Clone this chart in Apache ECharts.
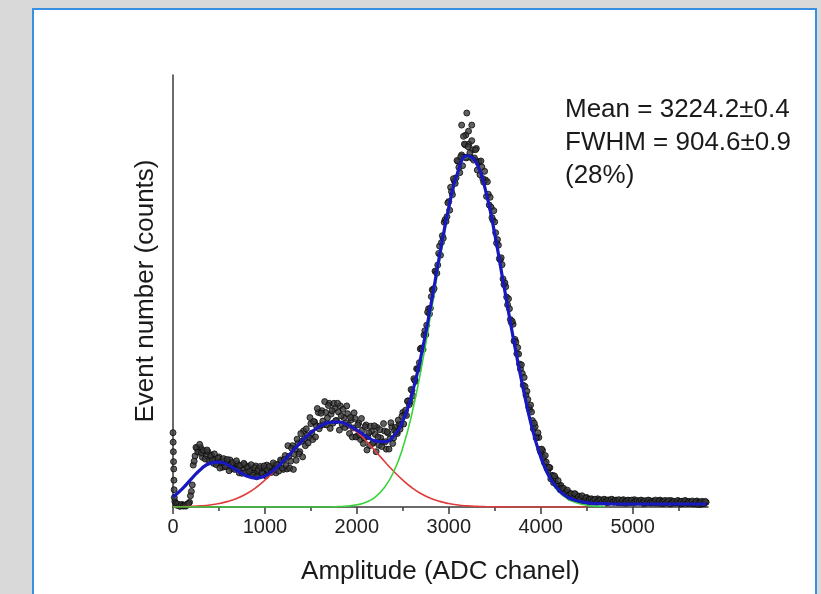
<!DOCTYPE html>
<html><head><meta charset="utf-8">
<script src="https://cdn.jsdelivr.net/npm/echarts@6/dist/echarts.min.js"></script>
<style>
html,body{margin:0;padding:0;background:#d9d9d9;width:821px;height:594px;overflow:hidden;}
#panel{position:absolute;left:32px;top:8px;width:785px;height:600px;box-sizing:border-box;border:2px solid #3a8fe0;border-bottom:none;background:#fff;}
#chart{position:absolute;left:0;top:0;width:821px;height:594px;}
</style></head><body><div id="panel"></div><div id="chart"></div>
<script>
// Measured spectrum (counts, arbitrary scale 0..1000 = axis height)
// even bins: channels 20,40,...,5800
const countsStart = 20, countsStep = 20;
const counts = [
13,4,4,2,6,3,2,7,11,36,
97,118,136,128,138,115,129,119,128,107,
120,101,111,102,116,103,92,107,94,102,
109,89,96,90,100,79,95,87,98,80,
94,76,87,79,95,83,73,90,78,89,
97,79,88,84,97,79,98,93,107,87,
119,88,117,106,142,122,108,148,128,152,
176,142,166,162,193,156,197,188,219,188,
223,191,219,206,240,215,194,228,200,220,
234,191,207,194,216,170,202,183,205,164,
194,156,178,160,190,163,142,175,149,168,
184,143,160,150,176,134,171,158,186,160,
184,170,192,191,219,214,212,246,244,270,
297,291,320,334,368,365,408,421,459,460,
503,506,545,560,604,612,622,665,672,707,
740,723,755,762,800,774,815,810,838,810,
840,809,827,808,830,798,769,787,752,757,
753,699,694,664,660,611,606,572,561,515,
510,468,459,427,423,388,355,354,319,309,
300,259,249,225,220,181,186,162,161,127,
131,103,104,86,91,73,56,67,48,50,
50,37,38,32,34,22,29,24,29,18,
25,15,20,16,22,17,12,18,13,16,
19,13,15,13,17,10,16,13,17,11,
16,10,14,11,17,13,9,15,11,14,
17,11,13,12,15,8,14,11,15,9,
14,9,13,10,16,12,8,14,10,13,
15,9,11,10,14,7,13,10,14,8,
13,8,11,8,14,10,6,12,8,11
];
// odd bins: channels 30,50,...,5790
const countsOddStart = 30, countsOddStep = 20;
const countsOdd = [
8,7,2,5,2,4,6,8,26,51,
106,138,127,145,125,131,111,132,108,118,
108,123,98,113,90,106,112,94,110,84,
97,103,87,107,88,96,78,101,80,91,
82,98,74,91,70,87,94,78,95,72,
86,94,80,102,87,98,83,109,90,110,
96,142,90,136,87,134,157,123,170,116,
158,181,148,207,171,198,162,228,181,217,
199,244,190,235,182,223,240,200,240,178,
211,226,184,234,189,207,162,218,162,190,
167,205,147,186,132,172,187,147,188,128,
162,179,140,193,151,174,134,195,147,177,
173,201,180,210,192,224,245,237,272,257,
293,320,319,366,365,398,399,451,447,487,
501,546,541,587,583,628,659,661,704,687,
730,760,749,802,786,811,790,840,808,834,
820,848,803,827,780,800,801,760,777,719,
724,717,670,686,635,619,575,577,528,519,
486,482,434,430,384,382,369,331,329,282,
279,268,231,236,200,194,160,172,133,134,
115,119,89,92,65,73,72,53,61,40,
44,43,32,39,28,31,20,31,19,24,
19,26,14,21,13,18,19,14,18,11,
15,17,12,18,13,16,11,18,12,15,
12,17,10,15,9,14,16,11,16,9,
13,15,11,16,11,14,9,16,10,13,
11,16,9,14,8,13,15,10,15,7,
11,13,9,15,10,13,8,15,9,12,
10,14,7,12,6,11,13,8,13
];
const spikeChannels = [0,2,4,6,8,10,12,14];
const spikeCounts = [172,150,128,105,88,62,40,22];
const outlierChannels = [3140,3185,3196,3250,3215,3160];
const outlierCounts = [884,861,912,884,870,858];

// Fit curves sampled every 100 channels
const fitChannels = [0,100,200,300,400,500,600,700,800,900,1000,1100,1200,1300,1400,1500,1600,1700,1800,1900,2000,2100,2200,2300,2400,2500,2600,2700,2800,2900,3000,3100,3200,3300,3400,3500,3600,3700,3800,3900,4000,4100,4200,4300,4400,4500,4600,4700,4800,4900,5000,5100,5200,5300,5400,5500,5600,5700,5800];
const fitTotal = [23,42,65,87,101,104,97,84,72,67,72,86,106,129,152,172,187,196,197,190,178,164,153,151,164,199,262,351,461,582,693,776,813,797,733,632,512,393,284,188,116,67,38,22,14,10,8,8,7,7,7,7,7,7,7,7,7,7,7];
const fitPeak1 = [0.4,0.7,1.4,2.6,4.6,7.9,13,20.4,30.8,44.6,62,82.8,105.7,129.8,153.2,173.2,188.1,196.5,196.5,188.1,173.2,153.2,129.8,105.7,82.8,62,44.6,30.8,20.4,13,7.9,4.6,2.6,1.4,0.7,0.4,0.2,0.1,0,0,0,0,0,0,0,0];
const fitPeak2 = [0,0,0,0,0,0,0,0,0,0,0,0,0,0,0,0,0,0,0.8,2.1,5,11,23,45,81,137,217,320,441,569,685,771,810,796,731,628,508,390,281,185,113,64,35,18,9,4,2,1];

const xMajorTicks = [0,1000,2000,3000,4000,5000];
const xMinorTicks = [500,1500,2500,3500,4500,5500];
const noteLines = ['Mean = 3224.2\u00b10.4','FWHM = 904.6\u00b10.9','(28%)'];

const pts = counts.map((v,i)=>[countsStart + i*countsStep, v]);
const ptsOdd = countsOdd.map((v,i)=>[countsOddStart + i*countsOddStep, v]);
const spikePts = spikeChannels.map((c,i)=>[c, spikeCounts[i]]);
const outPts = outlierChannels.map((c,i)=>[c, outlierCounts[i]]);
const curve = arr => arr.map((v,i)=>[fitChannels[i], v]);

const FONT = '"Liberation Sans", Arial, sans-serif';
const chart = echarts.init(document.getElementById('chart'), null, {renderer:'canvas'});
chart.setOption({
  animation:false,
  backgroundColor:'transparent',
  grid:{left:173, right:113, top:75, bottom:87, containLabel:false},
  xAxis:[{
    type:'value', min:0, max:5820,
    name:'Amplitude (ADC chanel)', nameLocation:'middle', nameGap:52,
    nameTextStyle:{fontFamily:FONT, fontSize:26, color:'#1a1a1a'},
    axisLine:{show:true, lineStyle:{color:'#3a3a3a', width:1.5}},
    axisTick:{show:true, customValues:xMajorTicks, length:7, lineStyle:{color:'#3a3a3a', width:1.5}},
    axisLabel:{show:true, customValues:xMajorTicks, margin:10, formatter:v=>String(v), fontFamily:FONT, fontSize:20, color:'#222'},
    splitLine:{show:false}
  },{
    type:'value', min:0, max:5820, position:'bottom',
    axisLine:{show:false},
    axisTick:{show:true, customValues:xMinorTicks, length:4, lineStyle:{color:'#3a3a3a', width:1.5}},
    axisLabel:{show:false},
    splitLine:{show:false}
  }],
  yAxis:{
    type:'value', min:0, max:1000,
    name:'Event number (counts)', nameLocation:'middle', nameGap:14,
    nameTextStyle:{fontFamily:FONT, fontSize:26, color:'#1a1a1a'},
    axisLine:{show:true, lineStyle:{color:'#3a3a3a', width:1.5}},
    axisTick:{show:false}, axisLabel:{show:false}, splitLine:{show:false}
  },
  graphic:[{
    type:'text', left:565, top:93, z:10,
    style:{text:noteLines.join('\n'), font:'26px "Liberation Sans", Arial, sans-serif', lineHeight:33, fill:'#1a1a1a'}
  }],
  series:[
    {type:'scatter', data:pts.concat(ptsOdd, spikePts, outPts), symbolSize:6, z:2,
     itemStyle:{color:'#3a3a3a', borderColor:'#0a0a0a', borderWidth:1}},
    {type:'line', data:curve(fitPeak1), smooth:true, showSymbol:false, z:3,
     lineStyle:{color:'#e03c3c', width:1.6}},
    {type:'line', data:curve(fitPeak2), smooth:true, showSymbol:false, z:4,
     lineStyle:{color:'#3ad43a', width:1.6}},
    {type:'line', data:curve(fitTotal), smooth:true, showSymbol:false, z:5,
     lineStyle:{color:'#1818c0', width:3.2}}
  ]
});
</script></body></html>
